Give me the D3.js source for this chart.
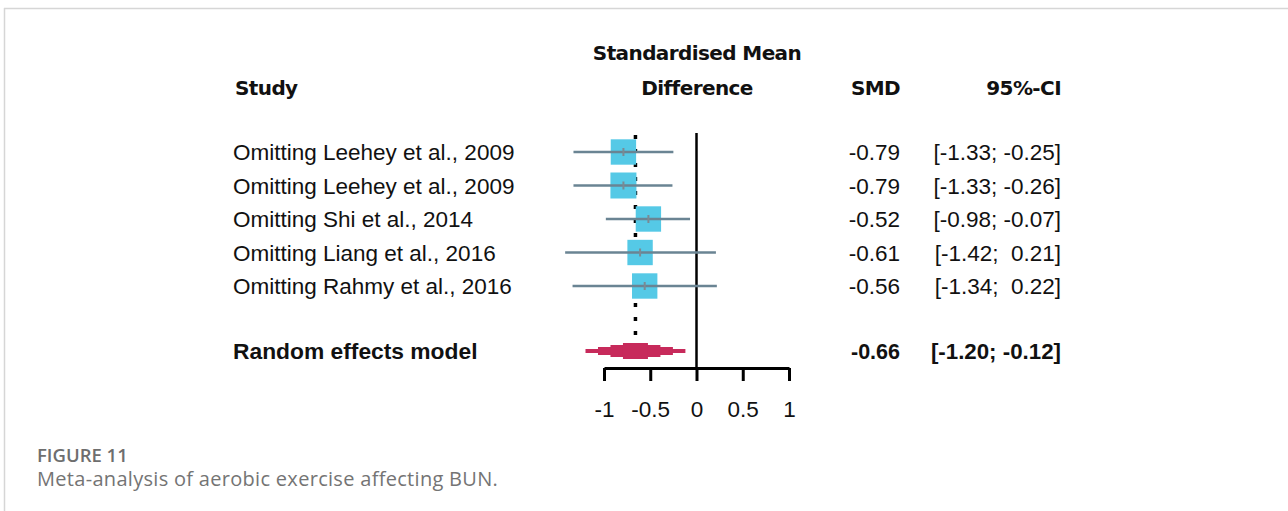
<!DOCTYPE html>
<html lang="en">
<head>
<meta charset="UTF-8">
<title>Forest plot - BUN</title>
<script src="https://d3js.org/d3.v7.min.js"></script>
<style>
    body { margin: 0; background: #fff; }
    svg text { font-family: "Liberation Sans", Arial, sans-serif; }
</style>
</head>
<body>
<svg id="chart" width="1288" height="511"></svg>
<script>
// study rows (leave-one-out)
var studies = ["Omitting Leehey et al., 2009", "Omitting Leehey et al., 2009", "Omitting Shi et al., 2014",
               "Omitting Liang et al., 2016", "Omitting Rahmy et al., 2016"];
var smd = [-0.79, -0.79, -0.52, -0.61, -0.56];
var lower = [-1.33, -1.33, -0.98, -1.42, -1.34];
var upper = [-0.25, -0.26, -0.07, 0.21, 0.22];
var weights = [20, 21, 20, 20, 20];

// pooled
var pooledLabel = "Random effects model";
var pooled = -0.66, pooledLower = -1.20, pooledUpper = -0.12;

var tickVals = [-1, -0.5, 0, 0.5, 1];

var svg = d3.select("#chart");

// card border
svg.append("line").attr("x1", 4).attr("x2", 1288).attr("y1", 8.5).attr("y2", 8.5)
   .style("stroke", "#d6d6d6").style("stroke-width", 1.5);
svg.append("line").attr("x1", 4.5).attr("x2", 4.5).attr("y1", 8).attr("y2", 511)
   .style("stroke", "#d6d6d6").style("stroke-width", 1.5);

var x = d3.scaleLinear().domain([-1, 1]).range([604, 789]);
var y = d3.scaleLinear().domain([0, 4]).range([152, 286]);
var yPooled = 351;
var size = d3.scaleSqrt().domain([0, d3.max(weights)]).range([0, 26]);

var fmt = function(v) { return v.toFixed(2); };
var ciText = function(lo, hi) { return "[" + fmt(lo) + ";" + (hi < 0 ? " " : "  ") + fmt(hi) + "]"; };

function header(xp, yp, txt, anchor) {
    svg.append("text").attr("x", xp).attr("y", yp).attr("text-anchor", anchor).text(txt)
       .style("font-weight", "bold").style("font-size", "20px").style("font-family", "DejaVu Sans")
       .style("letter-spacing", "-0.6px").style("fill", "#111");
}
header(235, 95, "Study", "start");
header(697, 60, "Standardised Mean", "middle");
header(697, 95, "Difference", "middle");
header(900, 95, "SMD", "end");
header(1061, 95, "95%-CI", "end");

// zero line
svg.append("line").attr("x1", x(0)).attr("x2", x(0)).attr("y1", 133).attr("y2", 368)
   .style("stroke", "#000").style("stroke-width", 2.5);

// pooled dotted line
svg.append("line").attr("x1", x(pooled)).attr("x2", x(pooled)).attr("y1", 135).attr("y2", 342)
   .style("stroke", "#000").style("stroke-width", 3.5).style("stroke-dasharray", "4,10");

var rows = svg.selectAll("g.row").data(studies).enter().append("g").attr("class", "row");

rows.append("rect")
    .attr("x", function(d, i) { return x(smd[i]) - size(weights[i]) / 2; })
    .attr("y", function(d, i) { return y(i) - size(weights[i]) / 2; })
    .attr("width", function(d, i) { return size(weights[i]); })
    .attr("height", function(d, i) { return size(weights[i]); })
    .style("fill", "#55c9e6");

rows.append("line")
    .attr("x1", function(d, i) { return x(lower[i]); })
    .attr("x2", function(d, i) { return x(upper[i]); })
    .attr("y1", function(d, i) { return y(i); })
    .attr("y2", function(d, i) { return y(i); })
    .style("stroke", "#6a8493").style("stroke-width", 2.5);

rows.append("line")
    .attr("x1", function(d, i) { return x(smd[i]); })
    .attr("x2", function(d, i) { return x(smd[i]); })
    .attr("y1", function(d, i) { return y(i) - 4; })
    .attr("y2", function(d, i) { return y(i) + 4; })
    .style("stroke", "#7a8a94").style("stroke-width", 2);

rows.append("text")
    .attr("x", 233).attr("y", function(d, i) { return y(i) + 8; })
    .text(function(d) { return d; })
    .style("font-size", "22.5px").style("fill", "#111");

rows.append("text")
    .attr("x", 900).attr("y", function(d, i) { return y(i) + 8; })
    .attr("text-anchor", "end")
    .text(function(d, i) { return fmt(smd[i]); })
    .style("font-size", "22.5px").style("fill", "#111");

rows.append("text")
    .attr("x", 1061).attr("y", function(d, i) { return y(i) + 8; })
    .attr("text-anchor", "end")
    .style("white-space", "pre")
    .text(function(d, i) { return ciText(lower[i], upper[i]); })
    .style("font-size", "22.5px").style("fill", "#111");

// pooled diamond, drawn stepped like the rasterised original
var dh = 8, steps = 4;
var half = (x(pooledUpper) - x(pooledLower)) / 2;
svg.selectAll("rect.dia").data(d3.range(steps)).enter().append("rect")
   .attr("class", "dia")
   .attr("x", function(k) { return x(pooled) - half * (1 - k / steps); })
   .attr("width", function(k) { return 2 * half * (1 - k / steps); })
   .attr("y", function(k) { return yPooled - dh * (k + 1) / steps; })
   .attr("height", function(k) { return 2 * dh * (k + 1) / steps; })
   .style("fill", "#c72a5b");

svg.append("text").attr("x", 233).attr("y", yPooled + 8).text(pooledLabel)
   .style("font-size", "22.8px").style("font-weight", "bold").style("fill", "#111");
svg.append("text").attr("x", 900).attr("y", yPooled + 8).attr("text-anchor", "end").text(fmt(pooled))
   .style("font-size", "21.5px").style("font-weight", "bold").style("fill", "#111");
svg.append("text").attr("x", 1061).attr("y", yPooled + 8).attr("text-anchor", "end").style("white-space", "pre")
   .text(ciText(pooledLower, pooledUpper))
   .style("font-size", "22.3px").style("font-weight", "bold").style("fill", "#111");

// x axis
var axis = svg.append("g").attr("transform", "translate(0,368)")
   .call(d3.axisBottom(x).tickValues(tickVals).tickSize(13).tickSizeOuter(0)
           .tickFormat(function(d) { return d === 0 ? "0" : String(d); }));
axis.select(".domain").style("stroke", "#000").style("stroke-width", 3);
axis.selectAll(".tick line").style("stroke", "#000").style("stroke-width", 3);
axis.selectAll(".tick text").attr("y", 33).style("font-size", "22.5px")
    .style("font-family", "'Liberation Sans', Arial, sans-serif").style("fill", "#111");

// caption
svg.append("text").attr("x", 37).attr("y", 462).text("FIGURE 11")
   .style("font-family", "'Open Sans', sans-serif").style("font-weight", "600")
   .style("font-size", "18.5px").style("fill", "#6e6e6e");
svg.append("text").attr("x", 37).attr("y", 486).text("Meta-analysis of aerobic exercise affecting BUN.")
   .style("font-family", "'Open Sans', sans-serif").style("font-size", "20px")
   .style("letter-spacing", "0.3px").style("fill", "#747474");
</script>
</body>
</html>
